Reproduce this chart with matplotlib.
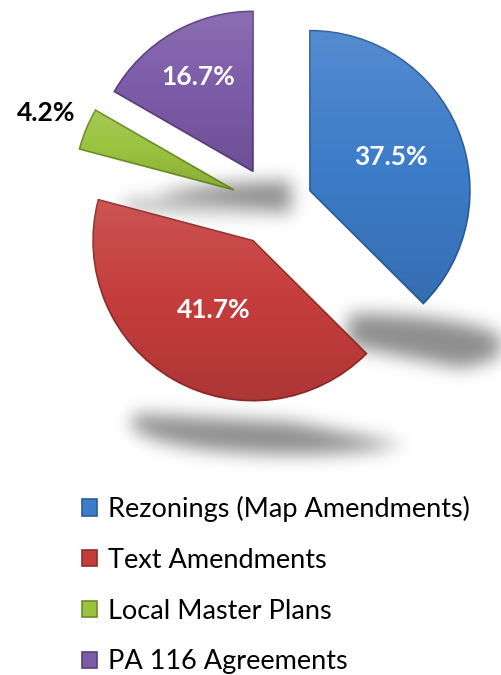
import numpy as np
import matplotlib.pyplot as plt
from matplotlib.path import Path

plt.rcParams['font.family'] = ['Lato', 'DejaVu Sans']

#---------------------
# data
#---------------------
categories = ['Rezonings (Map Amendments)', 'Text Amendments',
              'Local Master Plans', 'PA 116 Agreements']
shares = [37.5, 41.7, 4.2, 16.7]
pct_labels = ['37.5%', '41.7%', '4.2%', '16.7%']

#---------------------
# style
#---------------------
colors = ['#3d7cc9', '#c43d3c', '#9bc23f', '#7c5ba8']
edge_colors = ['#2b5d9c', '#922b2a', '#6c8e27', '#583f80']
label_colors = ['white', 'white', 'black', 'white']
label_dist = [0.55, 0.5, 1.27, 0.68]
explode = [40, 40, 42, 40]

W, H = 501, 675
fig = plt.figure(figsize=(W / 100, H / 100), dpi=100)
ax = fig.add_axes([0, 0, 1, 1])

# work in pixel units, y up
center = (273, H - 206)
radius = 160

wedges, _ = ax.pie(shares, colors=colors, explode=explode, startangle=90,
                   counterclock=False, radius=radius, center=center,
                   frame=True, wedgeprops=dict(linewidth=1.2, zorder=3))
ax.set_aspect('equal')
ax.axis('off')

for w, ec in zip(wedges, edge_colors):
    w.set_edgecolor(ec)


def blur(img, s):
    r = int(3 * s)
    k = np.exp(-0.5 * (np.arange(-r, r + 1) / s) ** 2)
    k /= k.sum()
    img = np.apply_along_axis(lambda m: np.convolve(m, k, mode='same'), 0, img)
    img = np.apply_along_axis(lambda m: np.convolve(m, k, mode='same'), 1, img)
    return img


#---------------------
# floor shadows
#---------------------
xx, yy = np.meshgrid(np.arange(W) + 0.5, np.arange(H) + 0.5)
pts = np.column_stack([xx.ravel(), yy.ravel()])
mask = np.zeros((H, W))
for w in wedges:
    p = w.get_path()
    v = p.vertices.copy()
    ymin, ymax = v[:, 1].min(), v[:, 1].max()
    h = ymax - ymin
    k = 0.2
    v[:, 1] = (ymin - 10 - h * k) + (v[:, 1] - ymin) * k
    v[:, 0] = v[:, 0] + 38
    sp = Path(v, p.codes)
    mask = np.maximum(mask, sp.contains_points(pts).reshape(H, W).astype(float))
mask = blur(mask, 9)
shadow = np.zeros((H, W, 4))
shadow[..., 3] = mask * 0.45
ax.imshow(shadow, extent=(0, W, 0, H), origin='lower', zorder=1,
          interpolation='bilinear')

#---------------------
# soft shading on each slice
#---------------------
for w in wedges:
    v = w.get_path().vertices
    x0, x1 = v[:, 0].min(), v[:, 0].max()
    y0, y1 = v[:, 1].min(), v[:, 1].max()
    g = np.linspace(-1, 1, 100)[:, None] * np.ones((1, 10))
    shade = np.zeros((100, 10, 4))
    shade[..., :3] = (g > 0)[..., None] * 1.0
    shade[..., 3] = np.abs(g) * 0.12
    im = ax.imshow(shade, extent=(x0, x1, y0, y1), origin='lower',
                   zorder=4, interpolation='bilinear', aspect='auto')
    im.set_clip_path(w)

ax.set_xlim(0, W)
ax.set_ylim(0, H)

#---------------------
# value labels
#---------------------
for w, txt, c, d in zip(wedges, pct_labels, label_colors, label_dist):
    tm = np.deg2rad((w.theta1 + w.theta2) / 2)
    cx, cy = w.center
    ax.text(cx + d * w.r * np.cos(tm), cy + d * w.r * np.sin(tm), txt,
            ha='center', va='center', color=c, fontsize=19,
            fontweight='bold', zorder=6)

#---------------------
# legend
#---------------------
fig.legend(wedges, categories, loc='upper left',
           bbox_to_anchor=(82 / W, 1 - 496 / H), frameon=False,
           fontsize=19.5, handlelength=0.55, handleheight=0.55,
           handletextpad=0.4, labelspacing=0.95, borderpad=0,
           borderaxespad=0)

fig.savefig('out.png', dpi=100)
